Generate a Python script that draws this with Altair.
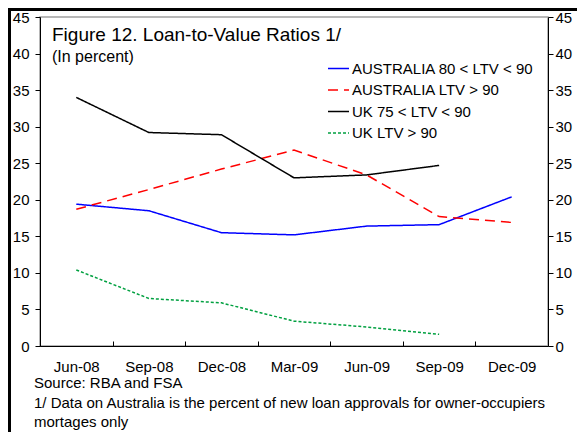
import altair as alt
import pandas as pd

dates = ["Jun-08", "Sep-08", "Dec-08", "Mar-09", "Jun-09", "Sep-09", "Dec-09"]
series = ["AUSTRALIA 80 < LTV < 90", "AUSTRALIA LTV > 90", "UK 75 < LTV < 90", "UK LTV > 90"]
aus_80_90 = [19.4, 18.5, 15.5, 15.2, 16.4, 16.6, 20.4]
aus_90 = [18.7, 21.4, 24.2, 26.8, 23.4, 17.7, 16.9]
uk_75_90 = [34.0, 29.2, 28.9, 23.0, 23.4, 24.7, None]
uk_90 = [10.4, 6.5, 5.9, 3.4, 2.6, 1.6, None]
y_ticks = list(range(0, 50, 5))
colors = ["#0000FF", "#FF0000", "#000000", "#00A040"]
dashes = [[1, 0], [10, 6], [1, 0], [3, 2]]

title_text = "Figure 12. Loan-to-Value Ratios 1/"
subtitle_text = "(In percent)"
source_text = "Source: RBA and FSA"
note_line1 = "1/ Data on Australia is the percent of new loan approvals for owner-occupiers"
note_line2 = "mortages only"

rows = []
for name, vals in zip(series, [aus_80_90, aus_90, uk_75_90, uk_90]):
    for d, v in zip(dates, vals):
        if v is not None:
            rows.append({"date": d, "series": name, "value": v})
df = pd.DataFrame(rows)

W, H = 508, 329
FONT = "Liberation Sans"
FS = 15
step = W / len(dates)

xscale = alt.Scale(domain=dates, type="point", padding=0.5)
yscale = alt.Scale(domain=[0, 45], nice=False)

legend_cfg = dict(
    orient="none", legendX=287, legendY=40, title=None,
    symbolType="stroke", symbolSize=441, symbolStrokeWidth=1.5,
    labelFontSize=FS, labelFont=FONT, labelColor="black", labelLimit=0,
    rowPadding=1.5, labelOffset=2, padding=0,
)

lines = alt.Chart(df).mark_line(strokeWidth=1.5).encode(
    x=alt.X("date:N", scale=xscale, sort=dates,
            axis=alt.Axis(title=None, orient="bottom", ticks=False, labelFontSize=FS,
                          labelColor="black", labelPadding=13, domainColor="black",
                          labelFont=FONT, labelAngle=0)),
    y=alt.Y("value:Q", scale=yscale,
            axis=alt.Axis(title=None, orient="left", values=y_ticks, grid=False, tickSize=5,
                          tickColor="black", domainColor="black", labelFontSize=FS,
                          labelColor="black", labelPadding=6, labelFont=FONT)),
    color=alt.Color("series:N", scale=alt.Scale(domain=series, range=colors),
                    legend=alt.Legend(**legend_cfg)),
    strokeDash=alt.StrokeDash("series:N", scale=alt.Scale(domain=series, range=dashes),
                              legend=alt.Legend(**legend_cfg)),
)

ghost = alt.Chart(df).mark_line(opacity=0).encode(
    x=alt.X("date:N", scale=xscale, sort=dates,
            axis=alt.Axis(title=None, orient="top", offset=-H, labels=False, domain=False,
                          ticks=True, tickSize=5, tickColor="black", tickOffset=-step / 2)),
    y=alt.Y("value:Q", scale=yscale,
            axis=alt.Axis(title=None, orient="right", values=y_ticks, grid=False, tickSize=5,
                          tickColor="black", domainColor="black", labelFontSize=FS,
                          labelColor="black", labelPadding=2, labelFont=FONT)),
    detail="series:N",
)

one = pd.DataFrame({"k": [0]})


def txt(s, x, y, size):
    return alt.Chart(one).mark_text(
        text=s, align="left", baseline="alphabetic", font=FONT, fontSize=size, color="black"
    ).encode(x=alt.value(x), y=alt.value(y))


title = txt(title_text, 12, 24, 19)
subtitle = txt(subtitle_text, 12, 45, 16)
src = txt(source_text, -6, 371, FS)
n1 = txt(note_line1, -6, 391, FS)
n2 = txt(note_line2, -6, 410, FS)

border_top = alt.Chart(one).mark_rule(color="black", strokeWidth=3).encode(
    x=alt.value(-32), x2=alt.value(537), y=alt.value(-7.5))
border_left = alt.Chart(one).mark_rule(color="black", strokeWidth=3).encode(
    x=alt.value(-30.5), y=alt.value(-9), y2=alt.value(418))

chart = alt.layer(lines, ghost, title, subtitle, src, n1, n2, border_top, border_left).resolve_axis(
    x="independent", y="independent"
).properties(
    width=W, height=H,
    autosize=alt.AutoSizeParams(type="none"),
    padding={"left": 32, "top": 9, "right": 29, "bottom": 86},
    background="white",
).configure_view(stroke="#A0A0A0", strokeWidth=1.5)

chart.save("out.html", embed_options={"renderer": "svg", "actions": False})
